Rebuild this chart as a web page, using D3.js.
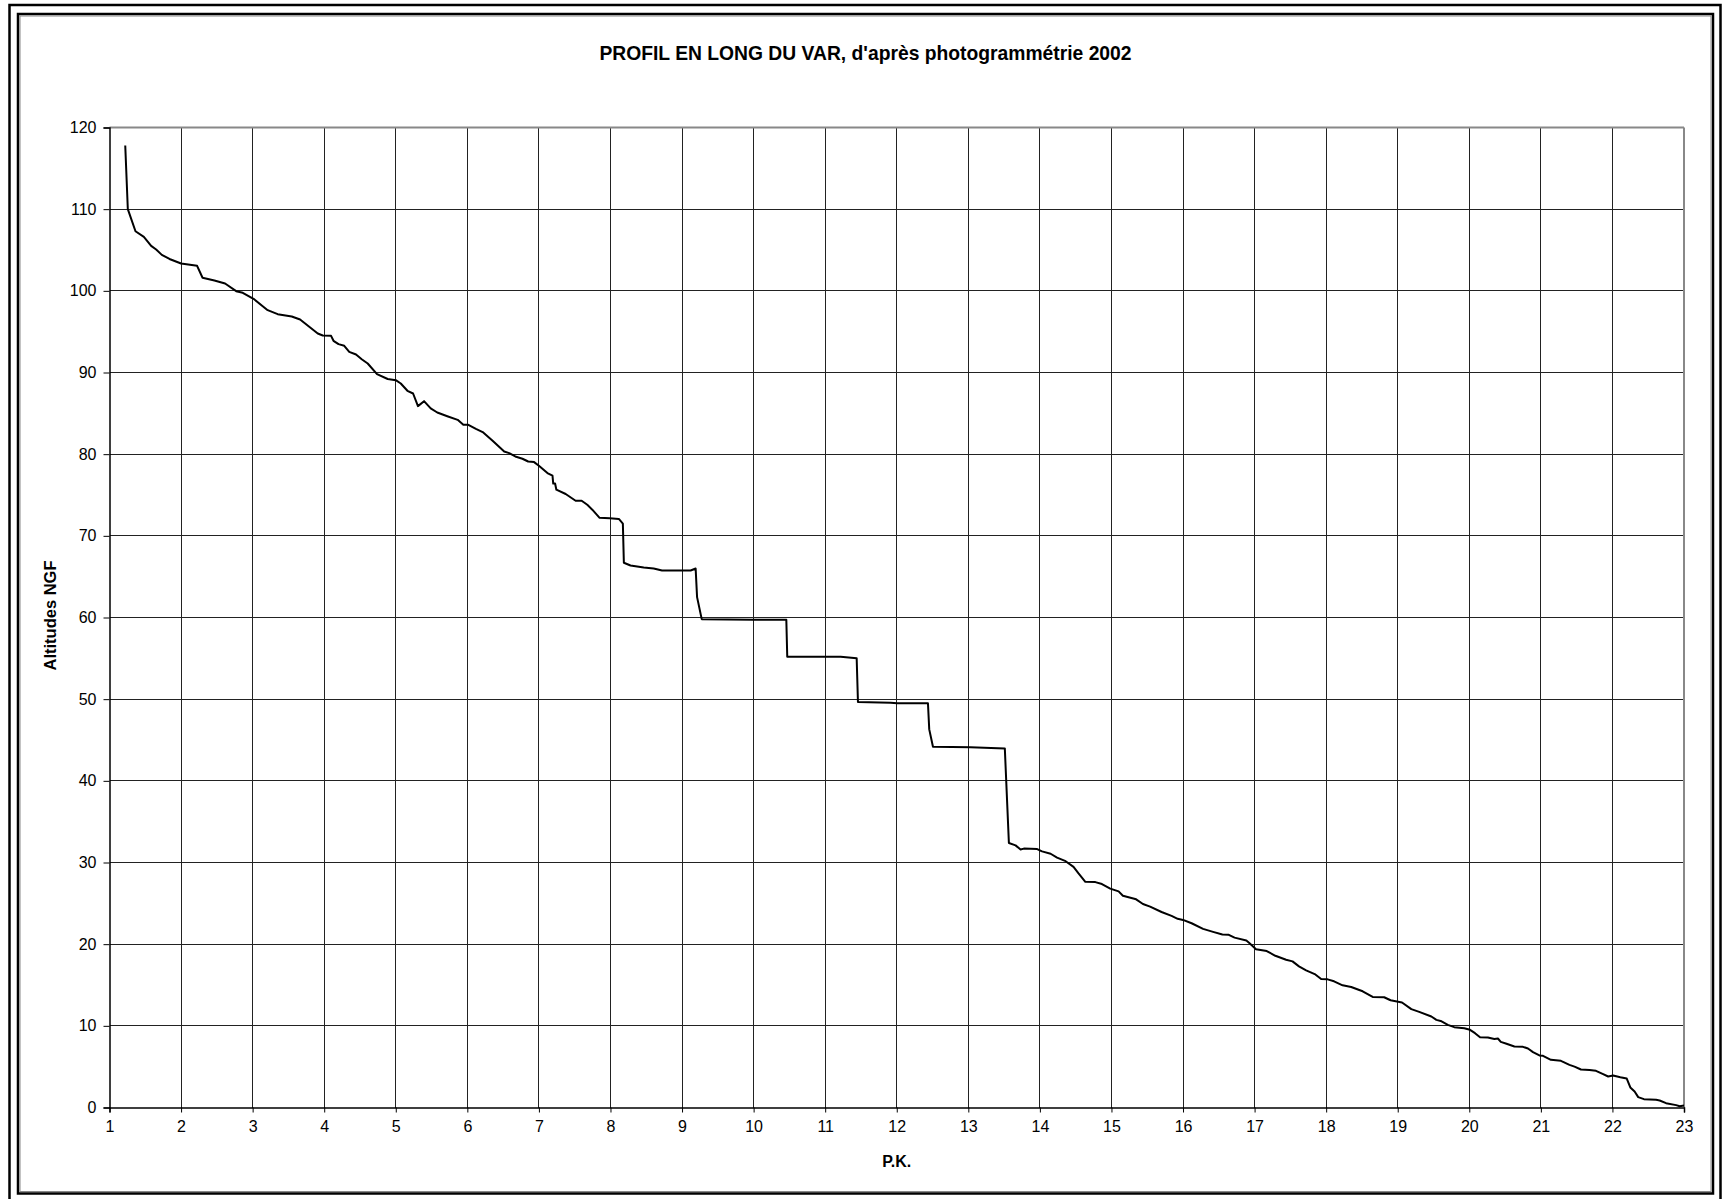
<!DOCTYPE html>
<html>
<head>
<meta charset="utf-8">
<script src="https://cdn.jsdelivr.net/npm/d3@7"></script>
<style>
  html, body { margin: 0; padding: 0; background: #fff; }
  svg { display: block; font-family: "Liberation Sans", Arial, sans-serif; }
</style>
</head>
<body>
<svg id="chart" width="1726" height="1199"></svg>
<script>
// ---- Data ----
const title = "PROFIL EN LONG DU VAR, d'après photogrammétrie 2002";
const xLabel = "P.K.";
const yLabel = "Altitudes NGF";
const xTicks = [1,2,3,4,5,6,7,8,9,10,11,12,13,14,15,16,17,18,19,20,21,22,23];
const yTicks = [0,10,20,30,40,50,60,70,80,90,100,110,120];

const pk = [
  1.22,1.256,1.363,1.48,1.582,1.652,1.731,1.838,2.0,2.224,2.30,2.466,2.615,2.77,2.862,3.025,3.21,3.35,3.547,3.663,
  3.91,3.98,4.096,4.13,4.2,4.28,4.35,4.445,4.524,4.608,4.738,4.887,5.0,5.07,5.163,5.242,5.31,5.395,5.488,5.58,
  5.72,5.865,5.944,6.014,6.12,6.214,6.353,6.515,6.585,6.67,6.77,6.85,6.933,7.0,7.119,7.19,7.2,7.226,7.244,7.374,
  7.513,7.597,7.676,7.746,7.848,7.99,8.117,8.173,8.187,8.28,8.465,8.604,8.72,9.12,9.19,9.21,9.275,10.0,10.457,10.47,
  11.216,11.44,11.458,11.914,12.007,12.436,12.454,12.506,13.03,13.51,13.567,13.66,13.73,13.776,13.962,14.03,14.15,14.24,14.36,14.47,
  14.54,14.635,14.775,14.867,14.983,15.1,15.16,15.345,15.44,15.54,15.7,15.84,15.925,16.0,16.12,16.28,16.42,16.55,16.64,16.72,
  16.885,16.93,17.02,17.17,17.29,17.44,17.53,17.62,17.72,17.84,17.93,18.02,18.11,18.23,18.35,18.51,18.65,18.81,18.9,19.06,
  19.19,19.3,19.47,19.54,19.6,19.7,19.79,19.93,20.01,20.08,20.15,20.26,20.35,20.4,20.44,20.52,20.63,20.75,20.82,20.89,
  20.98,21.03,21.14,21.28,21.4,21.47,21.56,21.68,21.77,21.87,21.94,22.01,22.11,22.2,22.25,22.31,22.36,22.44,22.61,22.66,
  22.75,22.89,22.94,23.0
];
const altitude = [
  117.8,110.0,107.3,106.6,105.5,105.06,104.4,103.9,103.35,103.06,101.6,101.27,100.9,99.96,99.76,98.94,97.63,97.14,96.86,96.49,
  94.78,94.53,94.49,93.88,93.47,93.27,92.53,92.2,91.63,91.1,89.8,89.2,89.06,88.65,87.76,87.43,85.88,86.49,85.6,85.1,
  84.65,84.2,83.6,83.6,83.1,82.7,81.64,80.33,80.13,79.72,79.44,79.1,79.03,78.58,77.69,77.36,76.4,76.4,75.65,75.12,
  74.3,74.3,73.8,73.2,72.2,72.15,72.07,71.5,66.7,66.37,66.12,66.0,65.76,65.76,66.0,62.5,59.8,59.73,59.73,55.2,
  55.2,55.0,49.66,49.57,49.5,49.5,46.3,44.17,44.1,43.97,32.38,32.1,31.6,31.7,31.65,31.36,31.07,30.6,30.16,29.47,
  28.66,27.64,27.6,27.36,26.8,26.46,25.93,25.49,24.92,24.6,23.94,23.46,23.1,22.97,22.56,21.87,21.5,21.18,21.14,20.8,
  20.45,20.12,19.39,19.15,18.58,18.09,17.89,17.28,16.8,16.34,15.73,15.69,15.45,14.96,14.76,14.23,13.54,13.5,13.13,12.86,
  12.04,11.71,11.14,10.73,10.6,10.12,9.84,9.71,9.51,9.1,8.61,8.57,8.4,8.45,8.04,7.8,7.47,7.43,7.22,6.78,
  6.37,6.33,5.84,5.71,5.22,5.0,4.65,4.6,4.49,4.08,3.8,3.92,3.71,3.55,2.45,1.96,1.27,1.02,0.94,0.86,
  0.53,0.29,0.16,0.24
];

// ---- Layout ----
const svg = d3.select("#chart");
const plot = { left: 109.5, right: 1684, top: 127.5, bottom: 1107.5 };

const x = d3.scaleLinear().domain([1, 23]).range([plot.left, plot.right]);
const y = d3.scaleLinear().domain([0, 120]).range([plot.bottom, plot.top]);

// Frames (double border)
svg.append("rect").attr("x", 9.5).attr("y", 5).attr("width", 1711).attr("height", 1210)
  .attr("fill", "none").attr("stroke", "#000").attr("stroke-width", 2.5);
svg.append("rect").attr("x", 18).attr("y", 14).attr("width", 1695).attr("height", 1179.5)
  .attr("fill", "none").attr("stroke", "#000").attr("stroke-width", 2.5);
svg.append("rect").attr("x", 20).attr("y", 16).attr("width", 1691).attr("height", 1175.5)
  .attr("fill", "none").attr("stroke", "#888").attr("stroke-width", 1);

// Gridlines
const grid = svg.append("g").attr("shape-rendering", "crispEdges");
grid.selectAll("line.h").data(yTicks.filter(d => d > 0 && d < 120)).enter().append("line")
  .attr("x1", plot.left).attr("x2", plot.right)
  .attr("y1", d => y(d)).attr("y2", d => y(d))
  .attr("stroke", "#222").attr("stroke-width", 1);
grid.selectAll("line.v").data(xTicks.filter(d => d > 1 && d < 23)).enter().append("line")
  .attr("y1", plot.top).attr("y2", plot.bottom)
  .attr("x1", d => x(d)).attr("x2", d => x(d))
  .attr("stroke", "#222").attr("stroke-width", 1);

// Plot area border (top and right, gray)
svg.append("line").attr("x1", plot.left).attr("x2", plot.right).attr("y1", plot.top).attr("y2", plot.top)
  .attr("stroke", "#888").attr("stroke-width", 2);
svg.append("line").attr("x1", plot.right).attr("x2", plot.right).attr("y1", plot.top).attr("y2", plot.bottom)
  .attr("stroke", "#888").attr("stroke-width", 2);

// Axes
const xAxis = d3.axisBottom(x).tickValues(xTicks).tickSize(5).tickPadding(8).tickFormat(d3.format("d"));
const yAxis = d3.axisLeft(y).tickValues(yTicks).tickSize(6).tickPadding(7).tickFormat(d3.format("d"));

const gx = svg.append("g").attr("transform", `translate(0,${plot.bottom})`).call(xAxis);
const gy = svg.append("g").attr("transform", `translate(${plot.left},0)`).call(yAxis);
[gx, gy].forEach(g => {
  g.select(".domain").attr("stroke", "#000").attr("stroke-width", 1.5);
  g.selectAll(".tick line").attr("stroke", "#000").attr("stroke-width", 1);
  g.selectAll(".tick text").attr("fill", "#000")
    .style("font-family", '"Liberation Sans", Arial, sans-serif').style("font-size", "16px");
});
gx.selectAll(".tick text").attr("dy", "0.71em");

// Profile line
const line = d3.line().x(d => x(d[0])).y(d => y(d[1]));
svg.append("path")
  .datum(pk.map((p, i) => [p, altitude[i]]))
  .attr("d", line)
  .attr("fill", "none").attr("stroke", "#000").attr("stroke-width", 2)
  .attr("stroke-linejoin", "round");

// Title and axis labels
svg.append("text").attr("x", 865.5).attr("y", 60).attr("text-anchor", "middle")
  .style("font-weight", "bold").style("font-size", "19.3px").text(title);
svg.append("text").attr("x", (plot.left + plot.right) / 2).attr("y", 1167).attr("text-anchor", "middle")
  .style("font-weight", "bold").style("font-size", "16px").text(xLabel);
svg.append("text")
  .attr("transform", `translate(56,${(plot.top + plot.bottom) / 2 - 2}) rotate(-90)`)
  .attr("text-anchor", "middle")
  .style("font-weight", "bold").style("font-size", "16.5px").text(yLabel);
</script>
</body>
</html>
